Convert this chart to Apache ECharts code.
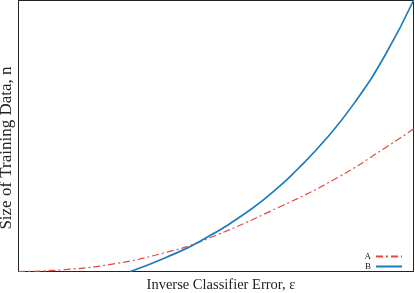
<!DOCTYPE html>
<html><head><meta charset="utf-8">
<script src="https://cdn.jsdelivr.net/npm/echarts@6/dist/echarts.min.js"></script>
<style>html,body{margin:0;padding:0;background:#fff}#c{width:415px;height:293px}</style>
</head><body><div id="c"></div>
<script>
const seriesNames = ['A', 'B'];
const xA = [0, 11.9, 24.5, 37.2, 46.0, 66.2, 80.7, 92.8, 100];
const yA = [0, 0.7, 2.9, 7.0, 11.0, 23.9, 34.6, 45.6, 52.6];
const xB = [28.3, 37.2, 46.0, 58.7, 66.2, 70.0, 77.6, 85.2, 92.8, 100];
const yB = [0, 5.1, 11.2, 22.8, 31.6, 36.8, 48.5, 62.5, 79.8, 100];
const xName = 'Inverse Classifier Error, ε';
const yName = 'Size of Training Data, n';

const pairs = (xs, ys) => xs.map((x, i) => [x, ys[i]]);
const serif = '"Liberation Serif", "DejaVu Serif", serif';
const chart = echarts.init(document.getElementById('c'));
chart.setOption({
  animation: false,
  grid: {left: 18.5, right: 1.5, top: 0.5, bottom: 21.5, show: true, borderColor: '#222', borderWidth: 1,
    containLabel: false, outerBoundsMode: 'none'},
  xAxis: {type: 'value', min: 0, max: 100, name: xName, nameLocation: 'middle', nameGap: 6,
    nameTextStyle: {fontFamily: serif, fontSize: 14.5, color: '#222', padding: [0, 0, 0, 10]},
    axisLine: {show: true, lineStyle: {color: '#222'}}, axisTick: {show: false}, axisLabel: {show: false}, splitLine: {show: false}},
  yAxis: {type: 'value', min: 0, max: 100, name: yName, nameLocation: 'middle', nameGap: 3,
    nameTextStyle: {fontFamily: serif, fontSize: 17, color: '#222', padding: [0, 24, 0, 0]},
    axisLine: {show: true, lineStyle: {color: '#222'}}, axisTick: {show: false}, axisLabel: {show: false}, splitLine: {show: false}},
  legend: {orient: 'vertical', right: 7, bottom: 17, align: 'right', itemWidth: 26, itemHeight: 6, itemGap: 1,
    itemStyle: {opacity: 0},
    textStyle: {fontFamily: serif, fontSize: 9, color: '#222', padding: [0, 0, 0, 0]}, data: seriesNames},
  series: [
    {name: seriesNames[0], type: 'line', data: pairs(xA, yA), smooth: 0.5, symbol: 'none', clip: true,
      lineStyle: {color: '#e8473f', width: 1.2, type: [7, 3, 2, 3]}, itemStyle: {color: '#e8473f'}},
    {name: seriesNames[1], type: 'line', data: pairs(xB, yB), smooth: 0.5, symbol: 'none', clip: true,
      lineStyle: {color: '#1f7bbf', width: 1.7}, itemStyle: {color: '#1f7bbf'}}
  ]
});
</script></body></html>
